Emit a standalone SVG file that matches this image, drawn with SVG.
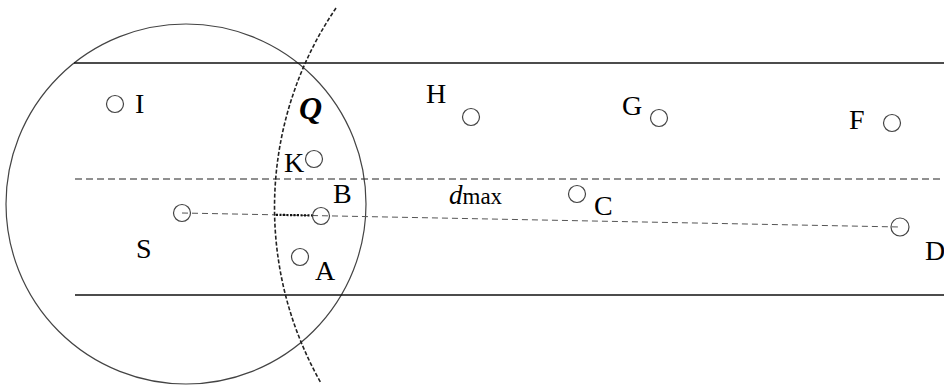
<svg xmlns="http://www.w3.org/2000/svg" width="944" height="388" viewBox="0 0 944 388">
<style>
text{font-family:'Liberation Serif','DejaVu Serif',serif}
.lbl{font-size:28px;fill:#000}
.nd{fill:none;stroke:#444;stroke-width:1.2}
.solid{stroke:#111;stroke-width:1.3;fill:none}
.dash{stroke:#222;stroke-width:1.2;stroke-dasharray:7 4;fill:none}
</style>
<rect width="944" height="388" fill="#fff"/>
<g id="range">
<circle cx="186" cy="204" r="180" fill="none" stroke="#444" stroke-width="1.2"/>
</g>
<g id="connectors">
<line class="solid" x1="74" y1="63" x2="944" y2="63"/>
<line class="solid" x1="75" y1="295" x2="944" y2="295"/>
<line class="dash" x1="75" y1="179" x2="944" y2="179"/>
<line x1="182" y1="213" x2="900" y2="227" stroke="#555" stroke-width="1" stroke-dasharray="6 4"/>
<line x1="276" y1="214.8" x2="314" y2="215.5" stroke="#111" stroke-width="2.2" stroke-dasharray="2 1.5"/>
<path d="M336 8 A354.5 354.5 0 0 0 321 383" fill="none" stroke="#222" stroke-width="1.6" stroke-dasharray="4 2"/>
</g>
<g id="node-I"><circle class="nd" cx="115" cy="104" r="8.5"/><text class="lbl" x="135" y="113">I</text></g>
<g id="node-Q"><text x="299" y="119" font-size="32" font-weight="bold" font-style="italic" fill="#000">Q</text></g>
<g id="node-H"><circle class="nd" cx="471" cy="117" r="8.5"/><text class="lbl" x="426" y="103">H</text></g>
<g id="node-G"><circle class="nd" cx="659" cy="118" r="8.5"/><text class="lbl" x="622" y="115">G</text></g>
<g id="node-F"><circle class="nd" cx="892" cy="123" r="8.5"/><text class="lbl" x="849" y="129">F</text></g>
<g id="node-K"><circle class="nd" cx="314" cy="159" r="8.5"/><text class="lbl" x="284" y="172">K</text></g>
<g id="node-B"><circle class="nd" cx="321" cy="216" r="8.5"/><text class="lbl" x="333" y="203">B</text></g>
<g id="node-C"><circle class="nd" cx="577" cy="194" r="8.5"/><text class="lbl" x="594" y="215">C</text></g>
<g id="node-S"><circle class="nd" cx="182" cy="213" r="8.5"/><text class="lbl" x="136" y="258">S</text></g>
<g id="node-A"><circle class="nd" cx="300" cy="257" r="8.5"/><text class="lbl" x="315" y="280">A</text></g>
<g id="node-D"><circle class="nd" cx="900" cy="227" r="9"/><text class="lbl" x="925" y="260">D</text></g>
<g id="label-dmax"><text x="449" y="204" fill="#000"><tspan font-size="27" font-style="italic">d</tspan><tspan font-size="23">max</tspan></text></g>
</svg>
